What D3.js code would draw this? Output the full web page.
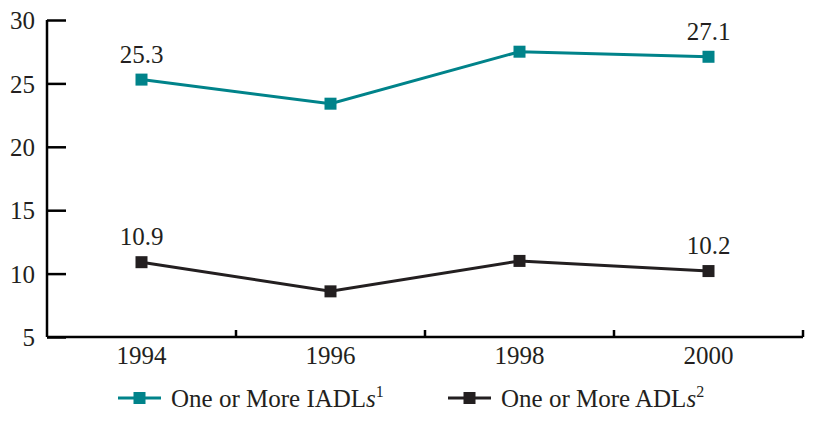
<!DOCTYPE html>
<html lang="en">
<head>
<meta charset="UTF-8">
<title>IADLs and ADLs</title>
<script src="https://d3js.org/d3.v7.min.js"></script>
<style>
    body { margin: 0; background: #fff; }
    svg { display: block; }
    .axis path, .axis line { stroke: #000; stroke-width: 2.5px; }
</style>
</head>
<body>
<svg width="817" height="424"></svg>
<script>
    const years = ["1994", "1996", "1998", "2000"];
    const iadl = [25.3, 23.4, 27.5, 27.1];
    const adl = [10.9, 8.6, 11.0, 10.2];
    const yTicks = [5, 10, 15, 20, 25, 30];
    const labelled = ["1994", "2000"]; // only end points carry value labels

    const FONT = '"Liberation Serif"';
    const INK = "#231f20";

    const svg = d3.select("svg");
    const plotLeft = 47, plotRight = 803, plotTop = 20, plotBottom = 337;

    const x = d3.scaleBand().domain(years).range([plotLeft, plotRight]);
    const y = d3.scaleLinear().domain([5, 30]).range([plotBottom, plotTop]);

    // y axis, ticks pointing inward
    const yAxis = svg.append("g").attr("class", "axis")
        .attr("transform", `translate(${plotLeft},0)`)
        .call(d3.axisRight(y).tickValues(yTicks).tickSize(19).tickSizeOuter(0));
    yAxis.select(".domain").remove();
    yAxis.append("line").attr("y1", plotTop).attr("y2", plotBottom);
    yAxis.selectAll(".tick text")
        .attr("x", -12).attr("text-anchor", "end").attr("dy", "0.35em")
        .style("font-family", FONT).style("font-size", "25px").attr("fill", INK);

    // x axis with ticks at band edges pointing up
    const xAxis = svg.append("g").attr("class", "axis")
        .attr("transform", `translate(0,${plotBottom})`);
    xAxis.append("line").attr("x1", plotLeft).attr("x2", plotRight);
    xAxis.selectAll(".edge").data(years.slice(1).concat(["end"]))
        .join("line").attr("class", "edge")
        .attr("x1", d => d === "end" ? plotRight : x(d))
        .attr("x2", d => d === "end" ? plotRight : x(d))
        .attr("y1", 0).attr("y2", -7);
    xAxis.selectAll("text").data(years).join("text")
        .attr("x", d => x(d) + x.bandwidth() / 2)
        .attr("y", 27)
        .attr("text-anchor", "middle")
        .style("font-family", FONT).style("font-size", "25px").attr("fill", INK)
        .text(d => d);

    const series = [
        { name: "One or More IADL", sup: "1", values: iadl, color: "#00838a" },
        { name: "One or More ADL", sup: "2", values: adl, color: INK }
    ];

    const line = d3.line()
        .x((d, i) => x(years[i]) + x.bandwidth() / 2)
        .y(d => y(d));

    series.forEach(s => {
        const g = svg.append("g");
        g.append("path").datum(s.values)
            .attr("d", line)
            .attr("fill", "none")
            .attr("stroke", s.color)
            .attr("stroke-width", 3);
        g.selectAll("rect").data(s.values).join("rect")
            .attr("x", (d, i) => x(years[i]) + x.bandwidth() / 2 - 6)
            .attr("y", d => y(d) - 6)
            .attr("width", 12).attr("height", 12)
            .attr("fill", s.color);
        g.selectAll("text").data(s.values.map((v, i) => ({ v, year: years[i] })).filter(d => labelled.includes(d.year)))
            .join("text")
            .attr("x", d => x(d.year) + x.bandwidth() / 2)
            .attr("y", d => y(d.v) - 17)
            .attr("text-anchor", "middle")
            .style("font-family", FONT).style("font-size", "25px")
            .attr("fill", INK)
            .text(d => d.v.toFixed(1));
    });

    // legend
    const legendX = [118, 448];
    series.forEach((s, i) => {
        const g = svg.append("g").attr("transform", `translate(${legendX[i]},398)`);
        g.append("line").attr("x1", 0).attr("x2", 43).attr("stroke", s.color).attr("stroke-width", 3);
        g.append("rect").attr("x", 15.5).attr("y", -6).attr("width", 12).attr("height", 12).attr("fill", s.color);
        const t = g.append("text").attr("x", 53).attr("y", 9)
            .style("font-family", FONT).style("font-size", "25px").attr("fill", INK);
        t.append("tspan").text(s.name);
        t.append("tspan").attr("font-style", "italic").text("s");
        t.append("tspan").style("font-size", "16px").attr("dy", -10).text(s.sup);
    });
</script>
</body>
</html>
